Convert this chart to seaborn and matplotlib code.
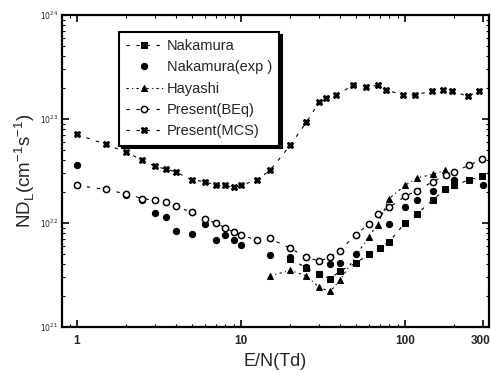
import matplotlib
matplotlib.use("Agg")
import matplotlib.pyplot as plt
import matplotlib.transforms as mtrans
import seaborn as sns
import numpy as np
import pandas as pd
from matplotlib.ticker import FixedLocator, FixedFormatter, LogLocator, NullFormatter

# ---------------- data ----------------
nak_x = [20, 25, 30, 35, 40, 50, 60, 70, 80, 100, 118, 148, 176, 200, 246, 295]
nak_y = [4.5e21, 3.7e21, 3.2e21, 2.9e21, 3.45e21, 4.1e21, 5.0e21, 5.8e21, 6.6e21,
         1.0e22, 1.22e22, 1.68e22, 2.1e22, 2.3e22, 2.6e22, 2.8e22]

exp_x = [1, 2, 2.5, 3, 3.5, 4, 5, 6, 7, 8, 9, 10, 15, 20, 25, 30, 35, 40, 50, 80,
         100, 118, 148, 200, 300]
exp_y = [3.6e22, 1.85e22, 1.65e22, 1.24e22, 1.14e22, 8.4e21, 7.9e21, 9.8e21, 6.9e21,
         7.7e21, 6.9e21, 6.2e21, 4.9e21, 4.7e21, 3.8e21, 3.2e21, 4.0e21, 4.1e21,
         5.0e21, 9.8e21, 1.41e22, 1.68e22, 2.04e22, 2.6e22, 2.3e22]

hay_x = [15, 20, 25, 30, 35, 40, 60, 68, 80, 100, 118, 148, 176]
hay_y = [3.1e21, 3.5e21, 3.1e21, 2.4e21, 2.2e21, 2.8e21, 7.4e21, 9.6e21, 1.72e22,
         2.3e22, 2.7e22, 2.95e22, 3.2e22]

beq_x = [1, 1.5, 2, 2.5, 3, 3.5, 4, 5, 6, 7, 8, 9, 10, 12.5, 15, 20, 25, 30, 35, 40,
         50, 60, 68, 80, 100, 118, 148, 178, 200, 246, 295]
beq_y = [2.3e22, 2.1e22, 1.9e22, 1.72e22, 1.65e22, 1.58e22, 1.45e22, 1.27e22, 1.09e22,
         1.0e22, 9.0e21, 8.2e21, 7.7e21, 6.8e21, 7.1e21, 5.7e21, 4.7e21, 4.3e21, 4.7e21,
         5.4e21, 7.7e21, 9.8e21, 1.22e22, 1.41e22, 1.8e22, 2.05e22, 2.5e22, 2.9e22,
         3.1e22, 3.6e22, 4.1e22]

mcs_x = [1, 1.5, 2, 2.5, 3, 3.5, 4, 5, 6, 7, 8, 9, 10, 12.5, 15, 20, 25, 30, 33, 38,
         48, 58, 68, 77, 97, 115, 146, 170, 194, 242, 283]
mcs_y = [7.1e22, 5.7e22, 4.8e22, 4.0e22, 3.5e22, 3.3e22, 3.1e22, 2.6e22, 2.5e22,
         2.3e22, 2.3e22, 2.2e22, 2.3e22, 2.6e22, 3.2e22, 5.6e22, 9.3e22, 1.45e23,
         1.6e23, 1.7e23, 2.1e23, 2.05e23, 2.1e23, 1.9e23, 1.7e23, 1.7e23, 1.86e23,
         1.9e23, 1.86e23, 1.65e23, 1.86e23]

labels = ["Nakamura", "Nakamura(exp )", "Hayashi", "Present(BEq)", "Present(MCS)"]
x_ticks = [1, 10, 100, 300]
x_ticklabels = ["1", "10", "100", "300"]
y_ticks = [1e21, 1e22, 1e23, 1e24]
y_ticklabels = [r"$10^{21}$", r"$10^{22}$", r"$10^{23}$", r"$10^{24}$"]

# ---------------- figure ----------------
sns.set_style("ticks")
plt.rcParams["font.family"] = ["Liberation Sans", "DejaVu Sans"]

fig = plt.figure(figsize=(4.91, 3.72), dpi=100)
ax = fig.add_axes([62 / 491, 1 - 327 / 372, (489 - 62) / 491, (327 - 15) / 372])

dash = (0, (3, 6))
sns.lineplot(x=nak_x, y=nak_y, ax=ax, color="black", marker="s", markersize=4,
             linestyle=dash, linewidth=0.8, label=labels[0], markeredgecolor="black")
sns.lineplot(x=exp_x, y=exp_y, ax=ax, color="black", marker="o", markersize=4.5,
             linestyle="none", label=labels[1], markeredgecolor="black")
sns.lineplot(x=hay_x, y=hay_y, ax=ax, color="black", marker="^", markersize=4.5,
             linestyle=(0, (2, 3, 1, 3)), linewidth=0.8, label=labels[2],
             markeredgecolor="black")
sns.lineplot(x=beq_x, y=beq_y, ax=ax, color="black", marker="o", markersize=4.5,
             markerfacecolor="white", markeredgecolor="black", markeredgewidth=1.1,
             linestyle=dash, linewidth=0.8, label=labels[3])
sns.lineplot(x=mcs_x, y=mcs_y, ax=ax, color="black", marker="X", markersize=5,
             markeredgecolor="black", linestyle=dash, linewidth=0.8, label=labels[4])

ax.set_xscale("log")
ax.set_yscale("log")
ax.set_xlim(0.81, 325)
ax.set_ylim(1e21, 1e24)

ax.xaxis.set_major_locator(FixedLocator(x_ticks))
ax.xaxis.set_major_formatter(FixedFormatter(x_ticklabels))
ax.xaxis.set_minor_locator(LogLocator(base=10, subs=np.arange(2, 10)))
ax.xaxis.set_minor_formatter(NullFormatter())
ax.yaxis.set_major_locator(FixedLocator(y_ticks))
ax.yaxis.set_major_formatter(FixedFormatter(y_ticklabels))
ax.yaxis.set_minor_locator(LogLocator(base=10, subs=np.arange(2, 10)))
ax.yaxis.set_minor_formatter(NullFormatter())

ax.tick_params(which="both", direction="in", top=True, right=True, color="black")
ax.tick_params(which="major", length=5, width=1.2)
ax.tick_params(which="minor", length=2.5, width=0.8)
ax.tick_params(axis="x", which="major", labelsize=8.5, pad=6)
ax.tick_params(axis="y", which="major", labelsize=5.5, pad=3)
xt = ax.get_xticklabels()
for lab in xt:
    lab.set_fontweight("bold")
# keep the "300" label inside the canvas
xt[-1].set_horizontalalignment("right")
xt[-1].set_transform(xt[-1].get_transform() +
                     mtrans.ScaledTranslation(7 / 100, 0, fig.dpi_scale_trans))

for sp in ax.spines.values():
    sp.set_linewidth(1.6)
    sp.set_color("black")

ax.set_xlabel("E/N(Td)", fontsize=13, labelpad=4)
ax.set_ylabel(r"ND$_\mathregular{L}$(cm$^\mathregular{-1}$s$^\mathregular{-1}$)",
              fontsize=13.5, labelpad=2)

leg = ax.legend(loc="upper left", bbox_to_anchor=(0.133, 0.946), borderaxespad=0,
                fontsize=10.5, frameon=True, fancybox=False, handlelength=2.5,
                handletextpad=0.3, labelspacing=0.5, borderpad=0.5,
                shadow={"color": "black", "alpha": 1.0})
leg.get_frame().set_edgecolor("black")
leg.get_frame().set_linewidth(1.5)
leg.get_frame().set_facecolor("white")
leg.get_frame().set_alpha(1.0)

fig.savefig("out.png", dpi=100, facecolor="white")
